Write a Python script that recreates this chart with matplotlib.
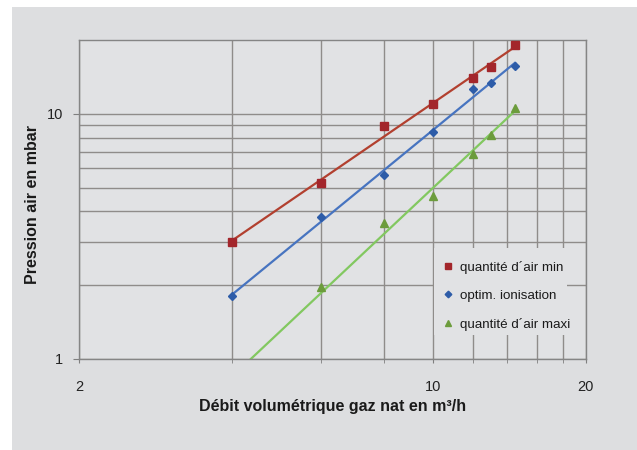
import numpy as np
import matplotlib
matplotlib.use('Agg')
import matplotlib.pyplot as plt
from matplotlib.patches import Rectangle
from matplotlib.ticker import FixedLocator, NullFormatter, FixedFormatter

plt.rcParams['font.family'] = ['Liberation Sans', 'DejaVu Sans']

# gas flow (m3/h) and air pressure (mbar) readings
debit = [4, 6, 8, 10, 12, 13, 14.5]
air_min = [3.0, 5.2, 8.9, 11.0, 14.0, 15.5, 19.1]
optim_ionisation = [1.8, 3.8, 5.65, 8.4, 12.6, 13.3, 15.7]
air_maxi = [0.8, 1.96, 3.6, 4.6, 6.85, 8.2, 10.6]

labels = ['quantité d´air min', 'optim. ionisation', 'quantité d´air maxi']
x_major = [2, 10, 20]
x_minor = [4, 6, 8, 12, 14, 16, 18]
y_major = [1, 10]
y_minor = [2, 3, 4, 5, 6, 7, 8, 9]

bg = '#dddee0'
plot_bg = '#e1e2e4'

fig = plt.figure(figsize=(6.37, 4.5), dpi=100, facecolor='white')
fig.patches.append(Rectangle((12/637, 0), 1 - 12/637, 1 - 7/450,
                             transform=fig.transFigure, facecolor=bg,
                             edgecolor='none', zorder=-10))

ax = fig.add_axes([79.3/637, 1 - 359/450, 506.4/637, 319/450])
ax.set_facecolor(plot_bg)
ax.set_xscale('log')
ax.set_yscale('log')
ax.set_xlim(2, 20)
ax.set_ylim(1, 20)

# ticks and grid
ax.xaxis.set_major_locator(FixedLocator(x_major))
ax.xaxis.set_major_formatter(FixedFormatter([str(v) for v in x_major]))
ax.xaxis.set_minor_locator(FixedLocator(x_minor))
ax.xaxis.set_minor_formatter(NullFormatter())
ax.yaxis.set_major_locator(FixedLocator(y_major))
ax.yaxis.set_major_formatter(FixedFormatter([str(v) for v in y_major]))
ax.yaxis.set_minor_locator(FixedLocator(y_minor))
ax.yaxis.set_minor_formatter(NullFormatter())

ax.set_axisbelow(True)
ax.grid(which='both', color='#8f8c8a', linewidth=1.0)
ax.tick_params(axis='x', which='both', direction='out', length=3,
               color='#7f7f7f', labelsize=10.5, pad=12, labelcolor='#222222')
ax.tick_params(axis='y', which='major', direction='out', length=4.5,
               color='#7f7f7f', labelsize=10.5, pad=7, labelcolor='#222222')
ax.tick_params(axis='y', which='minor', length=0)
for s in ax.spines.values():
    s.set_color('#858585')
    s.set_linewidth(1.0)

series = [
    (air_min, 's', 6.0, '#a3262b', '#b2402f'),
    (optim_ionisation, 'D', 4.2, '#2d5ca8', '#4774c0'),
    (air_maxi, '^', 5.8, '#6c9c3c', '#82c860'),
]

x = np.array(debit)
xs = np.linspace(x.min(), x.max(), 100)
handles = []
for (vals, mk, ms, mc, lc), lab in zip(series, labels):
    y = np.array(vals)
    # power trendline, fitted in log-log space
    k, b = np.polyfit(np.log(x), np.log(y), 1)
    ax.plot(xs, np.exp(b) * xs**k, color=lc, linewidth=1.6, zorder=2)
    h, = ax.plot(x, y, linestyle='none', marker=mk, markersize=ms,
                 color=mc, markeredgecolor=mc, zorder=3, label=lab)
    handles.append(h)

# legend area hides the grid behind it
ax.add_patch(Rectangle((0.7004, 0.0752), 0.2626, 0.2727, transform=ax.transAxes,
                       facecolor=plot_bg, edgecolor='none', zorder=1))

leg = ax.legend(handles=handles, loc='upper left',
                bbox_to_anchor=(437/637, 1 - 254/450), bbox_transform=fig.transFigure,
                frameon=False, fontsize=9.6, handlelength=0.6, handletextpad=0.6,
                labelspacing=1.2, borderpad=0, markerscale=0.8)
for t in leg.get_texts():
    t.set_color('#1a1a1a')

fig.text(33/637, 1 - 205/450, 'Pression air en mbar', rotation=90,
         ha='center', va='center', fontsize=11.5, fontweight='bold', color='#1a1a1a')
fig.text(332.5/637, 1 - 406/450, 'Débit volumétrique gaz nat en m³/h',
         ha='center', va='center', fontsize=11.5, fontweight='bold', color='#1a1a1a')

fig.savefig('out.png', dpi=100, facecolor=fig.get_facecolor())
